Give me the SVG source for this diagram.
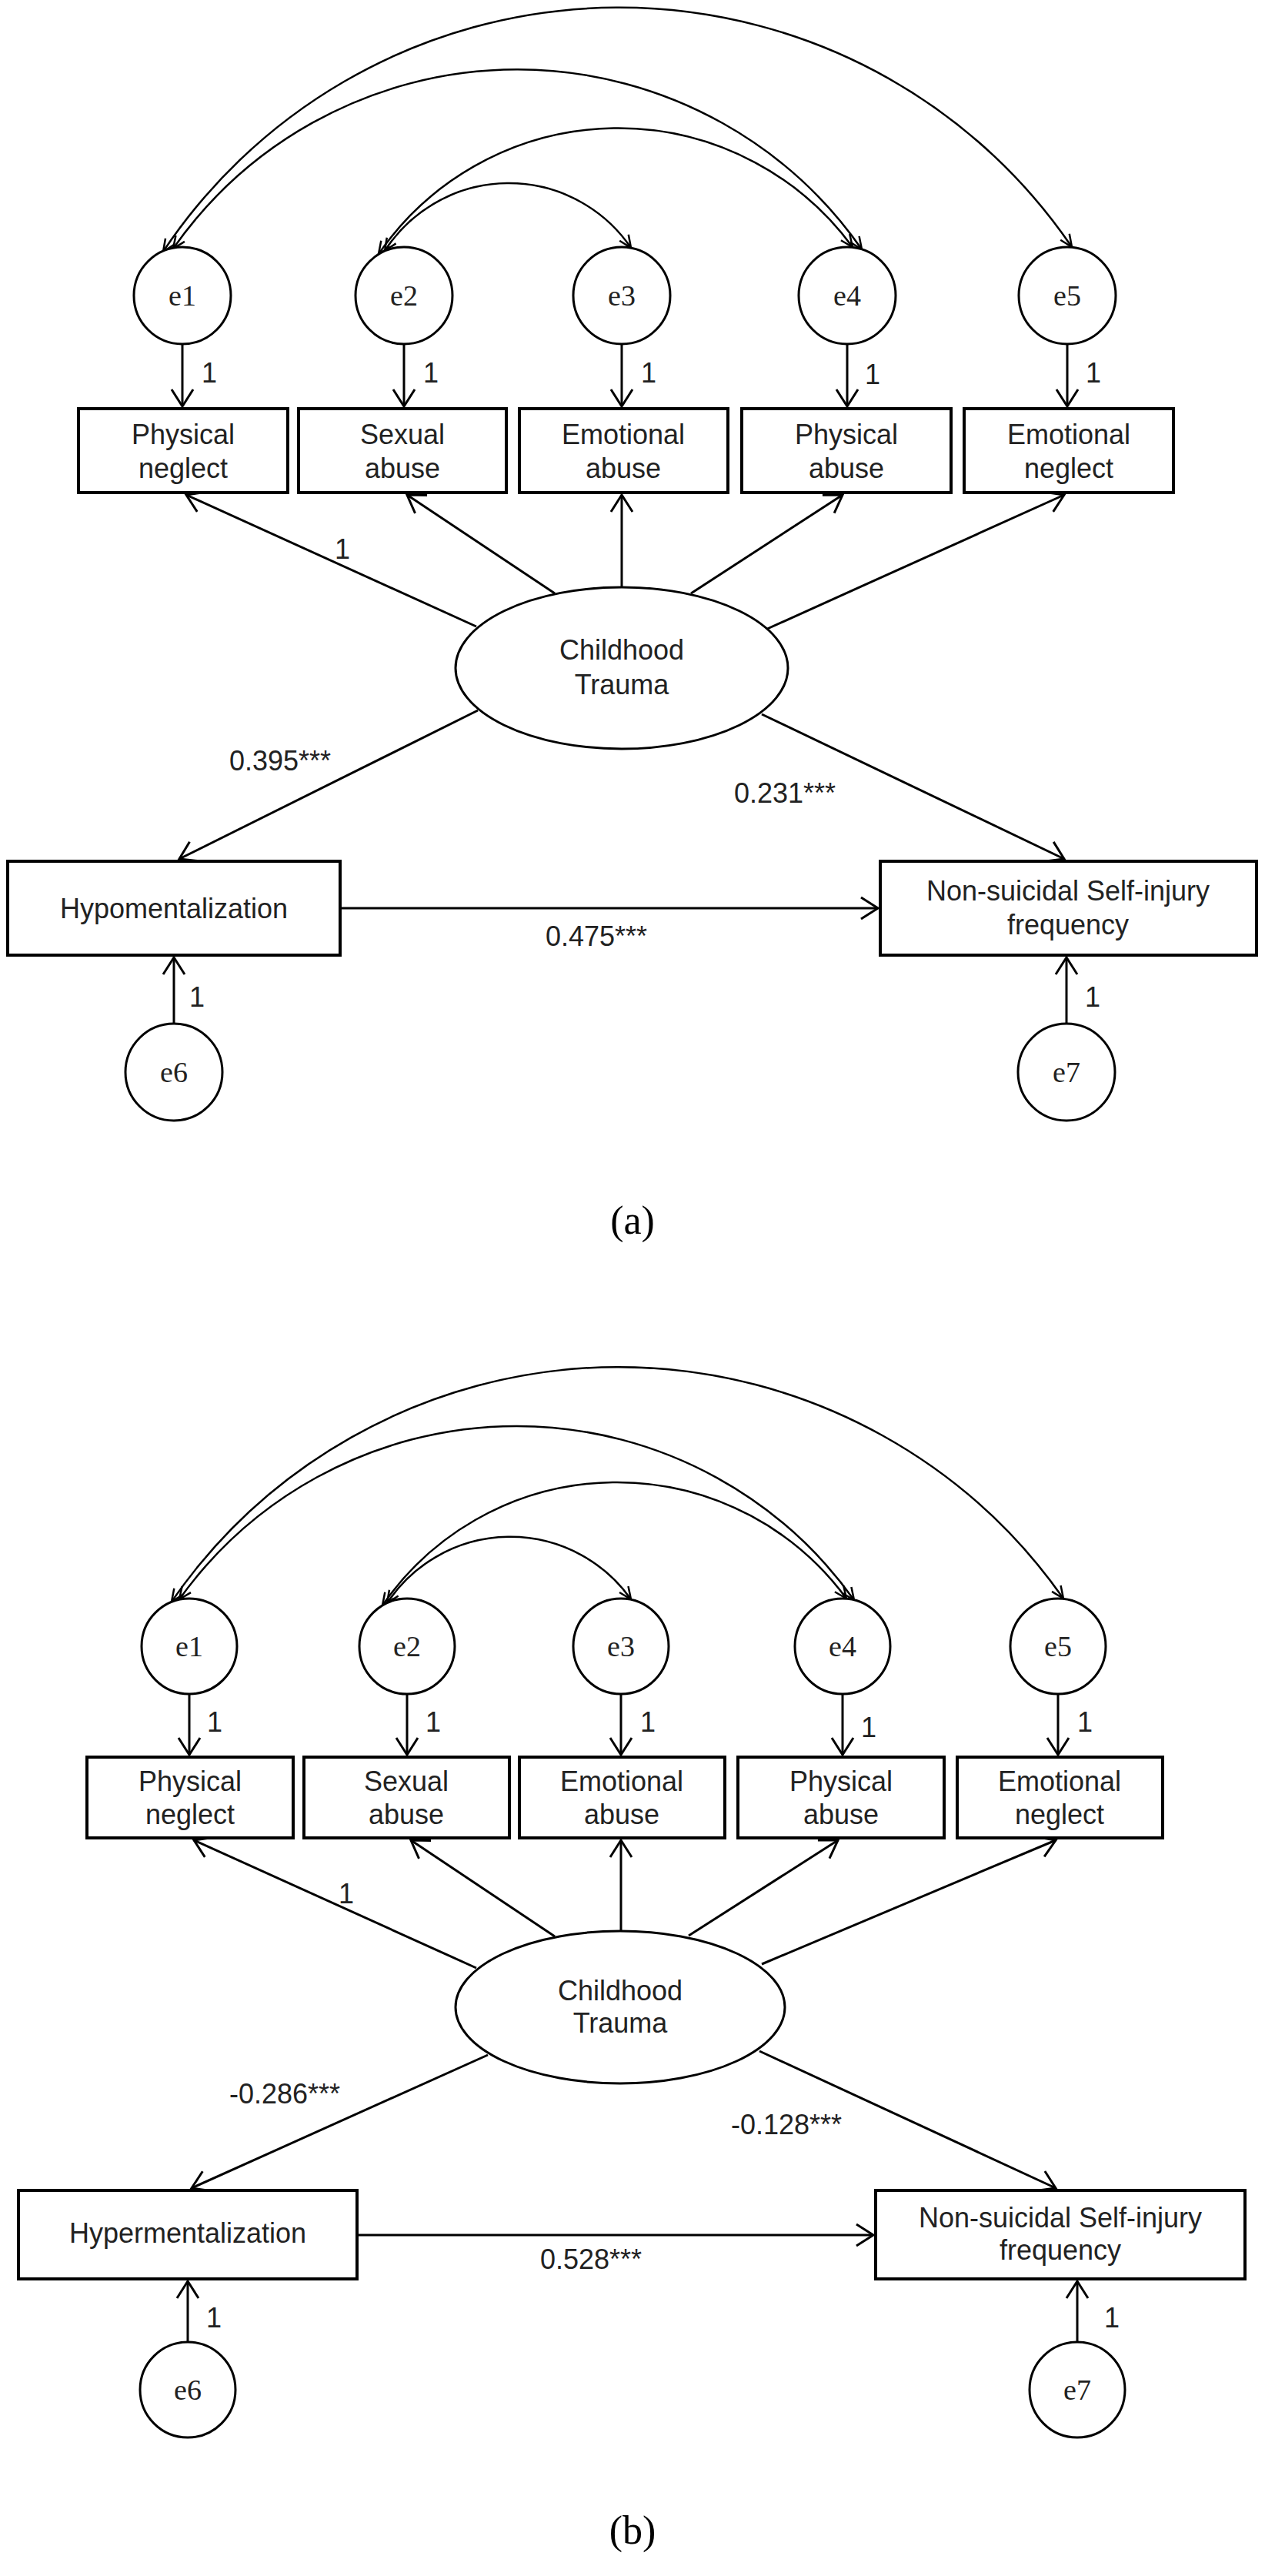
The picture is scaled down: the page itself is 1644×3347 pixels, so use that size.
<svg xmlns="http://www.w3.org/2000/svg" width="1644" height="3347" viewBox="0 0 1644 3347">
<style>
.bg{fill:#fff}
.box{fill:#fff;stroke:#000;stroke-width:4}
.circ{fill:#fff;stroke:#000;stroke-width:3}
.ell{fill:#fff;stroke:#000;stroke-width:3}
.ln{fill:none;stroke:#000;stroke-width:3;marker-end:url(#ah)}
.arc{fill:none;stroke:#000;stroke-width:2.5;marker-start:url(#ahs);marker-end:url(#ahs)}
.t{font-family:"Liberation Sans",Arial,sans-serif;font-size:36px;fill:#222;text-anchor:middle}
.ts{font-family:"Liberation Sans",Arial,sans-serif;font-size:36px;fill:#222}
.e{font-family:"Liberation Serif","Times New Roman",serif;font-size:38px;fill:#222;text-anchor:middle}
.cap{font-family:"Liberation Serif","Times New Roman",serif;font-size:52px;fill:#000;text-anchor:middle}
</style>
<defs>
<marker id="ah" viewBox="-26 -17 30 34" refX="0" refY="0" markerWidth="30" markerHeight="34" orient="auto" markerUnits="userSpaceOnUse" overflow="visible">
<path d="M-22,-14 L0,0 L-22,14" fill="none" stroke="#000" stroke-width="3"/>
</marker>
<marker id="ahs" viewBox="-20 -10 22 20" refX="0" refY="0" markerWidth="22" markerHeight="20" orient="auto-start-reverse" markerUnits="userSpaceOnUse" overflow="visible">
<path d="M-16,-7 L0,0 L-16,7" fill="none" stroke="#000" stroke-width="2.5"/>
</marker>
</defs>
<rect class="bg" x="0" y="0" width="1644" height="3347"/>

<!-- ================= Panel (a) ================= -->
<g id="a-connectors">
<path class="arc" d="M212,327 A712,712 0 0 1 1393,321"/>
<path class="arc" d="M225,323 A546,546 0 0 1 1120,324"/>
<path class="arc" d="M492,330 A378,378 0 0 1 1108,321"/>
<path class="arc" d="M500,326 A192,192 0 0 1 820,322"/>
<line class="ln" x1="237" y1="447" x2="237" y2="528"/>
<line class="ln" x1="525" y1="447" x2="525" y2="528"/>
<line class="ln" x1="808" y1="447" x2="808" y2="528"/>
<line class="ln" x1="1101" y1="447" x2="1101" y2="528"/>
<line class="ln" x1="1387" y1="447" x2="1387" y2="528"/>
<line class="ln" x1="619" y1="814" x2="242" y2="643"/>
<line class="ln" x1="721" y1="771" x2="529" y2="643"/>
<line class="ln" x1="808" y1="763" x2="808" y2="643"/>
<line class="ln" x1="898" y1="771" x2="1095" y2="643"/>
<line class="ln" x1="995" y1="818" x2="1383" y2="643"/>
<line class="ln" x1="621" y1="923" x2="233" y2="1116"/>
<line class="ln" x1="990" y1="928" x2="1383" y2="1116"/>
<line class="ln" x1="442" y1="1180" x2="1141" y2="1180"/>
<line class="ln" x1="226" y1="1330" x2="226" y2="1244"/>
<line class="ln" x1="1386" y1="1330" x2="1386" y2="1244"/>
<text class="t" x="272" y="497">1</text>
<text class="t" x="560" y="497">1</text>
<text class="t" x="843" y="497">1</text>
<text class="t" x="1134" y="499">1</text>
<text class="t" x="1421" y="497">1</text>
<text class="t" x="445" y="726">1</text>
<text class="ts" x="298" y="1001">0.395***</text>
<text class="ts" x="954" y="1043">0.231***</text>
<text class="ts" x="709" y="1229">0.475***</text>
<text class="t" x="256" y="1308">1</text>
<text class="t" x="1420" y="1308">1</text>
</g>

<g id="a-e1"><circle class="circ" cx="237" cy="384" r="63"/><text class="e" x="237" y="397">e1</text></g>
<g id="a-e2"><circle class="circ" cx="525" cy="384" r="63"/><text class="e" x="525" y="397">e2</text></g>
<g id="a-e3"><circle class="circ" cx="808" cy="384" r="63"/><text class="e" x="808" y="397">e3</text></g>
<g id="a-e4"><circle class="circ" cx="1101" cy="384" r="63"/><text class="e" x="1101" y="397">e4</text></g>
<g id="a-e5"><circle class="circ" cx="1387" cy="384" r="63"/><text class="e" x="1387" y="397">e5</text></g>

<g id="a-physical-neglect"><rect class="box" x="102" y="531" width="272" height="109"/><text class="t" x="238" y="577">Physical</text><text class="t" x="238" y="621">neglect</text></g>
<g id="a-sexual-abuse"><rect class="box" x="388" y="531" width="270" height="109"/><text class="t" x="523" y="577">Sexual</text><text class="t" x="523" y="621">abuse</text></g>
<g id="a-emotional-abuse"><rect class="box" x="675" y="531" width="271" height="109"/><text class="t" x="810" y="577">Emotional</text><text class="t" x="810" y="621">abuse</text></g>
<g id="a-physical-abuse"><rect class="box" x="964" y="531" width="272" height="109"/><text class="t" x="1100" y="577">Physical</text><text class="t" x="1100" y="621">abuse</text></g>
<g id="a-emotional-neglect"><rect class="box" x="1253" y="531" width="272" height="109"/><text class="t" x="1389" y="577">Emotional</text><text class="t" x="1389" y="621">neglect</text></g>

<g id="a-childhood-trauma"><ellipse class="ell" cx="808" cy="868" rx="216" ry="105"/><text class="t" x="808" y="857">Childhood</text><text class="t" x="808" y="902">Trauma</text></g>
<g id="a-hypomentalization"><rect class="box" x="10" y="1119" width="432" height="122"/><text class="t" x="226" y="1193">Hypomentalization</text></g>
<g id="a-nssi"><rect class="box" x="1144" y="1119" width="489" height="122"/><text class="t" x="1388" y="1170">Non-suicidal Self-injury</text><text class="t" x="1388" y="1214">frequency</text></g>
<g id="a-e6"><circle class="circ" cx="226" cy="1393" r="63"/><text class="e" x="226" y="1406">e6</text></g>
<g id="a-e7"><circle class="circ" cx="1386" cy="1393" r="63"/><text class="e" x="1386" y="1406">e7</text></g>
<text class="cap" x="822" y="1603">(a)</text>

<!-- ================= Panel (b) ================= -->
<g id="b-connectors">
<path class="arc" d="M223,2081 A706,706 0 0 1 1382,2077"/>
<path class="arc" d="M233,2078 A539,539 0 0 1 1110,2079"/>
<path class="arc" d="M497,2086 A370,370 0 0 1 1100,2077"/>
<path class="arc" d="M503,2083 A192,192 0 0 1 820,2078"/>
<line class="ln" x1="246" y1="2201" x2="246" y2="2280"/>
<line class="ln" x1="529" y1="2201" x2="529" y2="2280"/>
<line class="ln" x1="807" y1="2201" x2="807" y2="2280"/>
<line class="ln" x1="1095" y1="2201" x2="1095" y2="2280"/>
<line class="ln" x1="1375" y1="2201" x2="1375" y2="2280"/>
<line class="ln" x1="619" y1="2557" x2="252" y2="2391"/>
<line class="ln" x1="721" y1="2516" x2="534" y2="2391"/>
<line class="ln" x1="807" y1="2509" x2="807" y2="2391"/>
<line class="ln" x1="895" y1="2515" x2="1089" y2="2391"/>
<line class="ln" x1="990" y1="2552" x2="1372" y2="2391"/>
<line class="ln" x1="634" y1="2670" x2="249" y2="2843"/>
<line class="ln" x1="987" y1="2665" x2="1372" y2="2843"/>
<line class="ln" x1="464" y1="2904" x2="1135" y2="2904"/>
<line class="ln" x1="244" y1="3043" x2="244" y2="2964"/>
<line class="ln" x1="1400" y1="3043" x2="1400" y2="2964"/>
<text class="t" x="279" y="2250">1</text>
<text class="t" x="563" y="2250">1</text>
<text class="t" x="842" y="2250">1</text>
<text class="t" x="1129" y="2257">1</text>
<text class="t" x="1410" y="2250">1</text>
<text class="t" x="450" y="2473">1</text>
<text class="ts" x="298" y="2733">-0.286***</text>
<text class="ts" x="950" y="2773">-0.128***</text>
<text class="ts" x="702" y="2948">0.528***</text>
<text class="t" x="278" y="3024">1</text>
<text class="t" x="1445" y="3024">1</text>
</g>

<g id="b-e1"><circle class="circ" cx="246" cy="2139" r="62"/><text class="e" x="246" y="2152">e1</text></g>
<g id="b-e2"><circle class="circ" cx="529" cy="2139" r="62"/><text class="e" x="529" y="2152">e2</text></g>
<g id="b-e3"><circle class="circ" cx="807" cy="2139" r="62"/><text class="e" x="807" y="2152">e3</text></g>
<g id="b-e4"><circle class="circ" cx="1095" cy="2139" r="62"/><text class="e" x="1095" y="2152">e4</text></g>
<g id="b-e5"><circle class="circ" cx="1375" cy="2139" r="62"/><text class="e" x="1375" y="2152">e5</text></g>

<g id="b-physical-neglect"><rect class="box" x="113" y="2283" width="268" height="105"/><text class="t" x="247" y="2327">Physical</text><text class="t" x="247" y="2370">neglect</text></g>
<g id="b-sexual-abuse"><rect class="box" x="395" y="2283" width="267" height="105"/><text class="t" x="528" y="2327">Sexual</text><text class="t" x="528" y="2370">abuse</text></g>
<g id="b-emotional-abuse"><rect class="box" x="675" y="2283" width="267" height="105"/><text class="t" x="808" y="2327">Emotional</text><text class="t" x="808" y="2370">abuse</text></g>
<g id="b-physical-abuse"><rect class="box" x="959" y="2283" width="268" height="105"/><text class="t" x="1093" y="2327">Physical</text><text class="t" x="1093" y="2370">abuse</text></g>
<g id="b-emotional-neglect"><rect class="box" x="1244" y="2283" width="267" height="105"/><text class="t" x="1377" y="2327">Emotional</text><text class="t" x="1377" y="2370">neglect</text></g>

<g id="b-childhood-trauma"><ellipse class="ell" cx="806" cy="2608" rx="214" ry="99"/><text class="t" x="806" y="2599">Childhood</text><text class="t" x="806" y="2641">Trauma</text></g>
<g id="b-hypermentalization"><rect class="box" x="24" y="2846" width="440" height="115"/><text class="t" x="244" y="2914">Hypermentalization</text></g>
<g id="b-nssi"><rect class="box" x="1138" y="2846" width="480" height="115"/><text class="t" x="1378" y="2894">Non-suicidal Self-injury</text><text class="t" x="1378" y="2936">frequency</text></g>
<g id="b-e6"><circle class="circ" cx="244" cy="3105" r="62"/><text class="e" x="244" y="3118">e6</text></g>
<g id="b-e7"><circle class="circ" cx="1400" cy="3105" r="62"/><text class="e" x="1400" y="3118">e7</text></g>
<text class="cap" x="822" y="3305">(b)</text>
</svg>
